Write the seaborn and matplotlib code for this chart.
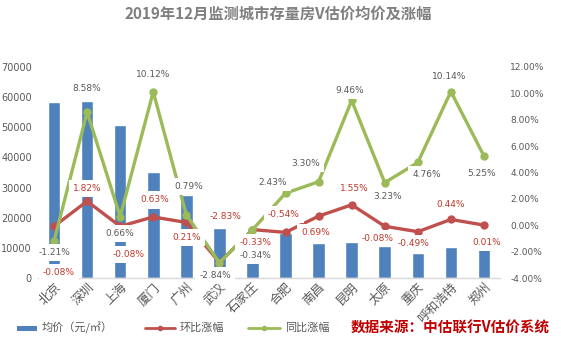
import numpy as np
import pandas as pd
import matplotlib
matplotlib.use("Agg")
import matplotlib.pyplot as plt
import seaborn as sns
from matplotlib.lines import Line2D
from matplotlib.patches import Rectangle

# ---------------- data ----------------
cities = ["北京", "深圳", "上海", "厦门", "广州", "武汉", "石家庄",
          "合肥", "南昌", "昆明", "太原", "重庆", "呼和浩特", "郑州"]
avg_price = [58300, 58700, 50700, 35300, 27700, 16700, 15000,
             15000, 11700, 12000, 10700, 8300, 10300, 9700]
mom_pct = [-0.08, 1.82, -0.08, 0.63, 0.21, -2.83, -0.33,
           -0.54, 0.69, 1.55, -0.08, -0.49, 0.44, 0.01]
yoy_pct = [-1.21, 8.58, 0.66, 10.12, 0.79, -2.84, -0.34,
           2.43, 3.30, 9.46, 3.23, 4.76, 10.14, 5.25]
left_ticks = [0, 10000, 20000, 30000, 40000, 50000, 60000, 70000]
right_ticks = [-4, -2, 0, 2, 4, 6, 8, 10, 12]

# label offsets in pixels (dx, dy with dy positive = downward)
yoy_off = [(0, 11), (0, -24), (0, 17), (0, -17), (2, -28), (-4, 13), (3, 26),
           (-13, -11), (-13, -18), (-2, -10), (3, 14), (9, 12), (-2, -15), (-2, 17)]
mom_off = [(5, 46), (0, -13), (8, 28), (2, -17), (0, 15), (6, -46), (3, 13),
           (-2, -18), (-3, 16), (3, -16), (-7, 12), (-4, 12), (0, -15), (3, 17)]

# ---------------- style ----------------
sns.set_theme(style="white")
plt.rcParams["font.family"] = ["Noto Sans CJK SC", "DejaVu Sans"]
plt.rcParams["axes.unicode_minus"] = False

BLUE = "#4F81BD"
RED = "#C0504D"
GREEN = "#9BBB59"
GRAY = "#595959"

W, H = 561, 342
fig = plt.figure(figsize=(W / 100, H / 100), dpi=100)
fig.patch.set_facecolor("white")

x0, x1, ytop, ybot = 37.5, 500.5, 67, 278
ax = fig.add_axes([x0 / W, 1 - ybot / H, (x1 - x0) / W, (ybot - ytop) / H])

df = pd.DataFrame({"city": cities, "price": avg_price, "mom": mom_pct, "yoy": yoy_pct,
                   "pos": np.arange(len(cities))})

sns.barplot(data=df, x="city", y="price", color=BLUE, saturation=1, width=0.38, ax=ax)
ax.set_xlim(-0.5, len(cities) - 0.5)
ax.set_ylim(0, 70000)
ax.set_yticks(left_ticks)
ax.set_yticklabels([str(t) for t in left_ticks], fontsize=7, color=GRAY, family="DejaVu Sans")
ax.set_xlabel("")
ax.set_ylabel("")
ax.tick_params(axis="both", length=0)
ax.tick_params(axis="y", pad=4)
ax.tick_params(axis="x", pad=2)
for lab in ax.get_xticklabels():
    lab.set_rotation(45)
    lab.set_ha("right")
    lab.set_rotation_mode("anchor")
    lab.set_fontsize(9)
    lab.set_color(GRAY)
for s in ["top", "left", "right"]:
    ax.spines[s].set_visible(False)
ax.spines["bottom"].set_color("#D9D9D9")
ax.spines["bottom"].set_linewidth(1)

ax2 = ax.twinx()
sns.lineplot(data=df, x="pos", y="mom", color=RED, marker="o", markersize=6,
             markeredgewidth=0, linewidth=2.4, ax=ax2, zorder=2)
sns.lineplot(data=df, x="pos", y="yoy", color=GREEN, marker="o", markersize=6,
             markeredgewidth=0, linewidth=2.4, ax=ax2, zorder=3)
ax2.set_xlim(-0.5, len(cities) - 0.5)
ax2.set_ylim(-4, 12)
ax2.set_yticks(right_ticks)
ax2.set_yticklabels([f"{t:.2f}%" for t in right_ticks], fontsize=6.5, color=GRAY,
                    family="DejaVu Sans")
ax2.set_xlabel("")
ax2.set_ylabel("")
ax2.tick_params(axis="both", length=0)
ax2.tick_params(axis="y", pad=7)
for s in ["top", "left", "right", "bottom"]:
    ax2.spines[s].set_visible(False)
ax2.xaxis.set_visible(False)

box = dict(boxstyle="square,pad=0.45", fc="white", ec="none")
for i, (v, (dx, dy)) in enumerate(zip(yoy_pct, yoy_off)):
    ax2.annotate(f"{v:.2f}%", (i, v), xytext=(dx, -dy), textcoords="offset pixels",
                 ha="center", va="center", fontsize=6.5, color=GRAY,
                 family="DejaVu Sans", bbox=box, zorder=5)
for i, (v, (dx, dy)) in enumerate(zip(mom_pct, mom_off)):
    ax2.annotate(f"{v:.2f}%", (i, v), xytext=(dx, -dy), textcoords="offset pixels",
                 ha="center", va="center", fontsize=6.5, color="#C0392B",
                 family="DejaVu Sans", bbox=box, zorder=5)

# title
fig.text(278 / W, 1 - 14 / H, "2019年12月监测城市存量房V估价均价及涨幅",
         ha="center", va="center", fontsize=11, fontweight="bold", color="#7F7F7F")

# legend (manual)
ly = 1 - 328 / H
fig.add_artist(Rectangle((17 / W, 1 - 331 / H), 20 / W, 5 / H, transform=fig.transFigure,
                         fc=BLUE, ec="none"))
fig.text(42 / W, ly, "均价（元/㎡）", ha="left", va="center", fontsize=8, color=GRAY)
fig.add_artist(Line2D([145 / W, 175 / W], [ly, ly], transform=fig.transFigure,
                      color=RED, linewidth=2))
fig.add_artist(Line2D([160 / W], [ly], transform=fig.transFigure, color=RED,
                      marker="o", markersize=4, markeredgewidth=0))
fig.text(180 / W, ly, "环比涨幅", ha="left", va="center", fontsize=8, color=GRAY)
fig.add_artist(Line2D([248 / W, 280 / W], [ly, ly], transform=fig.transFigure,
                      color=GREEN, linewidth=2))
fig.add_artist(Line2D([264 / W], [ly], transform=fig.transFigure, color=GREEN,
                      marker="o", markersize=4, markeredgewidth=0))
fig.text(285 / W, ly, "同比涨幅", ha="left", va="center", fontsize=8, color=GRAY)
fig.text(450 / W, ly, "数据来源：中估联行V估价系统", ha="center", va="center",
         fontsize=10.5, fontweight="bold", color="#C00000", style="italic")

fig.savefig("out.png", dpi=100, facecolor="white")
